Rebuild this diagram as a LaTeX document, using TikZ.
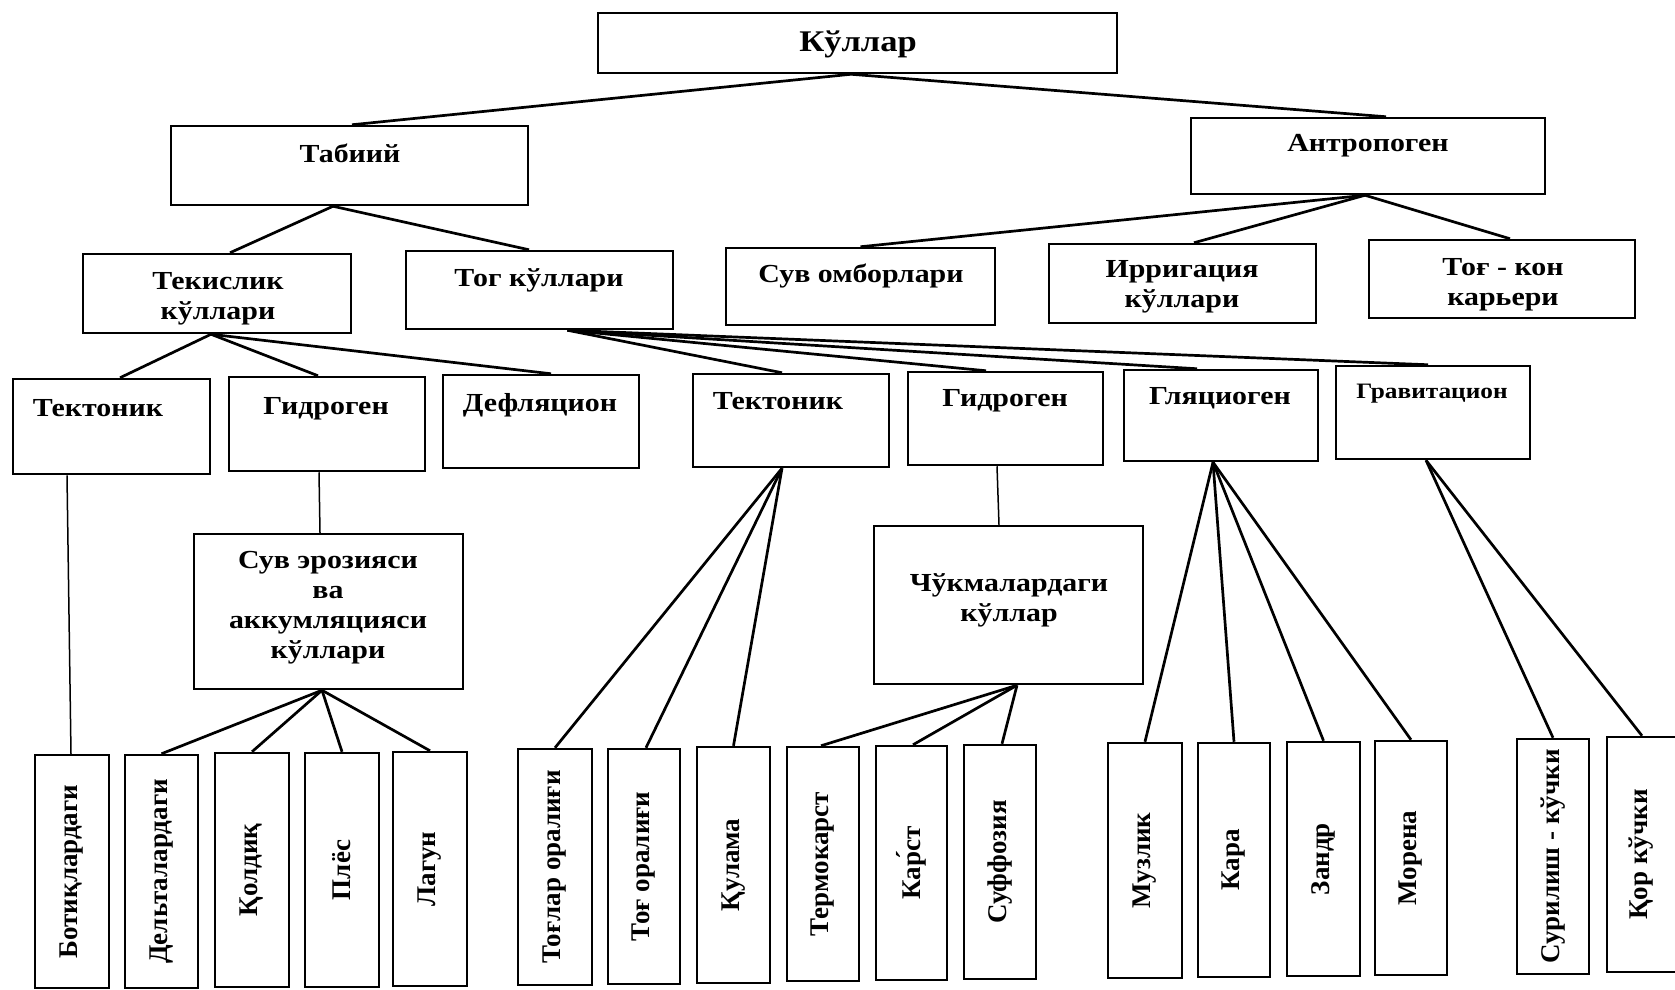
\documentclass[tikz,border=0pt]{standalone}
\usepackage{fontspec}
\setmainfont{Liberation Serif}[FakeStretch=1.15]
\newfontfamily\leaffont{Liberation Serif}
\usetikzlibrary{fit}
\begin{document}
\begin{tikzpicture}[x=1pt,y=-1pt,
  box/.style={draw,line width=2.5pt,inner sep=0pt,rectangle},
  lbl/.style={font=\fontsize{26}{30}\selectfont\bfseries,align=center,inner sep=0pt,text height=19pt,text depth=6pt},
  lbltwo/.style={font=\fontsize{26}{30}\selectfont\bfseries,align=center,inner sep=0pt},
  leaf/.style={font=\leaffont\fontsize{27}{30}\selectfont\bfseries,rotate=90,inner sep=0pt},
  con/.style={line width=2.7pt},
  thin/.style={line width=1.5pt}]
\useasboundingbox (0,0) rectangle (1675,989);
% level 0
\node[box,fit={(598,13) (1117,73)}] (kul) {};
\node[lbl,font=\fontsize{30}{32}\selectfont\bfseries] (kul-t) at (858,45) {Кўллар};
% level 1
\node[box,fit={(171,126) (528,205)}] (tab) {};
\node[lbl] (tab-t) at (350,156) {Табиий};
\node[box,fit={(1191,118) (1545,194)}] (ant) {};
\node[lbl] (ant-t) at (1368,145) {Антропоген};
% level 2
\node[box,fit={(83,254) (351,333)}] (tek) {};
\node[lbltwo] (tek-t) at (218,299) {Текислик\\кўллари};
\node[box,fit={(406,251) (673,329)}] (tog) {};
\node[lbl] (tog-t) at (539,280) {Тог кўллари};
\node[box,fit={(726,248) (995,325)}] (suv) {};
\node[lbl] (suv-t) at (861,276) {Сув омборлари};
\node[box,fit={(1049,244) (1316,323)}] (irr) {};
\node[lbltwo] (irr-t) at (1182,287) {Ирригация\\кўллари};
\node[box,fit={(1369,240) (1635,318)}] (kon) {};
\node[lbltwo] (kon-t) at (1503,285) {Тоғ - кон\\карьери};
% level 3
\node[box,fit={(13,379) (210,474)}] (tt1) {};
\node[lbl] (tt1-t) at (98,410) {Тектоник};
\node[box,fit={(229,377) (425,471)}] (gd1) {};
\node[lbl] (gd1-t) at (326,408) {Гидроген};
\node[box,fit={(443,375) (639,468)}] (def) {};
\node[lbl] (def-t) at (540,405) {Дефляцион};
\node[box,fit={(693,374) (889,467)}] (tt2) {};
\node[lbl] (tt2-t) at (778,403) {Тектоник};
\node[box,fit={(908,372) (1103,465)}] (gd2) {};
\node[lbl] (gd2-t) at (1005,400) {Гидроген};
\node[box,fit={(1124,370) (1318,461)}] (gly) {};
\node[lbl] (gly-t) at (1220,398) {Гляциоген};
\node[box,fit={(1336,366) (1530,459)}] (grav) {};
\node[lbl,font=\fontsize{22}{26}\selectfont\bfseries] (grav-t) at (1432,392) {Гравитацион};
% level 4
\node[box,fit={(194,534) (463,689)}] (erz) {};
\node[lbltwo] (erz-t) at (328,608) {Сув эрозияси\\ва\\аккумляцияси\\кўллари};
\node[box,fit={(874,526) (1143,684)}] (chk) {};
\node[lbltwo] (chk-t) at (1009,600) {Чўкмалардаги\\кўллар};
% leaves
\node[box,fit={(35,755) (109,988)}] (bot) {};
\node[leaf] (bot-t) at (bot.center) {Ботиқлардаги};
\node[box,fit={(125,755) (198,988)}] (del) {};
\node[leaf] (del-t) at (del.center) {Дельталардаги};
\node[box,fit={(215,753) (289,987)}] (qol) {};
\node[leaf] (qol-t) at (qol.center) {Қолдиқ};
\node[box,fit={(305,753) (379,987)}] (ples) {};
\node[leaf] (ples-t) at (ples.center) {Плёс};
\node[box,fit={(393,752) (467,986)}] (lag) {};
\node[leaf] (lag-t) at (lag.center) {Лагун};
\node[box,fit={(518,749) (592,985)}] (tgo) {};
\node[leaf] (tgo-t) at (tgo.center) {Тоғлар оралиғи};
\node[box,fit={(608,749) (680,984)}] (tor) {};
\node[leaf] (tor-t) at (tor.center) {Тоғ оралиғи};
\node[box,fit={(697,747) (770,983)}] (qul) {};
\node[leaf] (qul-t) at (qul.center) {Қулама};
\node[box,fit={(787,747) (859,981)}] (trm) {};
\node[leaf] (trm-t) at (trm.center) {Термокарст};
\node[box,fit={(876,746) (947,980)}] (krs) {};
\node[leaf] (krs-t) at (krs.center) {Кар́ст};
\node[box,fit={(964,745) (1036,979)}] (suf) {};
\node[leaf] (suf-t) at (suf.center) {Суффозия};
\node[box,fit={(1108,743) (1182,978)}] (muz) {};
\node[leaf] (muz-t) at (muz.center) {Музлик};
\node[box,fit={(1198,743) (1270,977)}] (kar) {};
\node[leaf] (kar-t) at (kar.center) {Кара};
\node[box,fit={(1287,742) (1360,976)}] (zan) {};
\node[leaf] (zan-t) at (zan.center) {Зандр};
\node[box,fit={(1375,741) (1447,975)}] (mor) {};
\node[leaf] (mor-t) at (mor.center) {Морена};
\node[box,fit={(1517,739) (1589,974)}] (sur) {};
\node[leaf] (sur-t) at (sur.center) {Сурилиш - кўчки};
\node[box,fit={(1607,737) (1681,972)}] (qor) {};
\node[leaf] (qor-t) at ([xshift=-3pt]qor.center) {Қор кўчки};
% connectors
\draw[con] ([xshift=-6.5pt]kul.south) -- ([xshift=2.5pt]tab.north);
\draw[con] ([xshift=-6.5pt]kul.south) -- ([xshift=18pt]ant.north);
\draw[con] ([xshift=-16.5pt]tab.south) -- ([xshift=13pt]tek.north);
\draw[con] ([xshift=-16.5pt]tab.south) -- ([xshift=-10.5pt]tog.north);
\draw[con] ([xshift=-3pt]ant.south) -- (suv.north);
\draw[con] ([xshift=-3pt]ant.south) -- ([xshift=11.5pt]irr.north);
\draw[con] ([xshift=-3pt]ant.south) -- ([xshift=8pt]kon.north);
\draw[con] ([xshift=-6pt]tek.south) -- ([xshift=8.5pt]tt1.north);
\draw[con] ([xshift=-6pt]tek.south) -- ([xshift=-9pt]gd1.north);
\draw[con] ([xshift=-6pt]tek.south) -- ([xshift=10pt]def.north);
\draw[con] ([xshift=28pt]tog.south) -- ([xshift=-9pt]tt2.north);
\draw[con] ([xshift=28pt]tog.south) -- ([xshift=-19.5pt]gd2.north);
\draw[con] ([xshift=28pt]tog.south) -- ([xshift=-24pt]gly.north);
\draw[con] ([xshift=28pt]tog.south) -- ([xshift=-5pt]grav.north);
\draw[thin] ([xshift=-44.5pt]tt1.south) -- ([xshift=-1pt]bot.north);
\draw[thin] ([xshift=-8pt]gd1.south) -- ([xshift=-8.5pt]erz.north);
\draw[con] ([xshift=-6.5pt]erz.south) -- (del.north);
\draw[con] ([xshift=-6.5pt]erz.south) -- (qol.north);
\draw[con] ([xshift=-6.5pt]erz.south) -- (ples.north);
\draw[con] ([xshift=-6.5pt]erz.south) -- (lag.north);
\draw[con] ([xshift=-9pt]tt2.south) -- (tgo.north);
\draw[con] ([xshift=-9pt]tt2.south) -- ([xshift=2pt]tor.north);
\draw[con] ([xshift=-9pt]tt2.south) -- (qul.north);
\draw[thin] ([xshift=-8.5pt]gd2.south) -- ([xshift=-9.5pt]chk.north);
\draw[con] ([xshift=8.5pt]chk.south) -- ([xshift=-2pt]trm.north);
\draw[con] ([xshift=8.5pt]chk.south) -- ([xshift=1.5pt]krs.north);
\draw[con] ([xshift=8.5pt]chk.south) -- ([xshift=2pt]suf.north);
\draw[con] ([xshift=-8pt]gly.south) -- (muz.north);
\draw[con] ([xshift=-8pt]gly.south) -- (kar.north);
\draw[con] ([xshift=-8pt]gly.south) -- (zan.north);
\draw[con] ([xshift=-8pt]gly.south) -- (mor.north);
\draw[con] ([xshift=-7pt]grav.south) -- (sur.north);
\draw[con] ([xshift=-7pt]grav.south) -- ([xshift=-2pt]qor.north);
\end{tikzpicture}
\end{document}
